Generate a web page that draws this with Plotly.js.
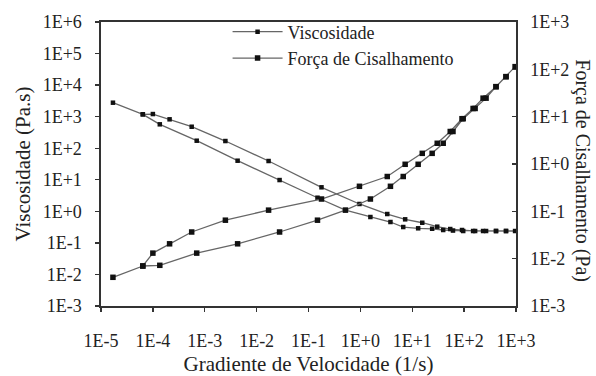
<!DOCTYPE html>
<html>
<head>
<meta charset="utf-8">
<script src="https://cdn.plot.ly/plotly-3.0.1.min.js"></script>
<style>html,body{margin:0;padding:0;background:#fff}#chart{width:596px;height:376px}</style>
</head>
<body>
<div id="chart"></div>
<script>
// Shear rate (1/s): increasing sweep, then decreasing sweep
const rateUp   = [1.7e-5, 6.4e-5, 1.0e-4, 2.1e-4, 5.6e-4, 2.5e-3, 1.7e-2, 0.178, 0.96, 3.3, 7.3, 15.6, 30.3, 54, 91, 149, 232, 412, 642, 960];
const rateDown = [642, 412, 265, 163, 96, 61, 39.5, 24.2, 13.0, 6.7, 3.8, 1.56, 0.515, 0.149, 0.0277, 4.3e-3, 7.0e-4, 1.36e-4, 6.4e-5];
// Viscosity (Pa.s)
const viscUp   = [2770, 1190, 1210, 824, 480, 169, 39.3, 5.77, 1.71, 0.822, 0.558, 0.435, 0.326, 0.275, 0.256, 0.238, 0.238, 0.238, 0.238, 0.238];
const viscDown = [0.238, 0.238, 0.238, 0.238, 0.238, 0.246, 0.256, 0.28, 0.29, 0.318, 0.459, 0.661, 1.10, 2.70, 9.8, 40.2, 173, 572, 1186];
// Shear stress (Pa)
const stressUp   = [0.00404, 0.0070, 0.0131, 0.0206, 0.0366, 0.065, 0.106, 0.182, 0.338, 0.544, 0.986, 1.68, 2.74, 4.86, 9.06, 14.9, 24.6, 43.0, 70.0, 114];
const stressDown = [70.0, 43.0, 24.6, 14.9, 9.06, 4.86, 2.74, 1.68, 0.986, 0.544, 0.338, 0.182, 0.106, 0.065, 0.0366, 0.0206, 0.0131, 0.00724, 0.0070];
// Tick labels
const xTickVals = [1e-5, 1e-4, 1e-3, 1e-2, 1e-1, 1e0, 1e1, 1e2, 1e3];
const xTickText = ['1E-5','1E-4','1E-3','1E-2','1E-1','1E+0','1E+1','1E+2','1E+3'];
const yTickVals = [1e-3, 1e-2, 1e-1, 1e0, 1e1, 1e2, 1e3, 1e4, 1e5, 1e6];
const yTickText = ['1E-3','1E-2','1E-1','1E+0','1E+1','1E+2','1E+3','1E+4','1E+5','1E+6'];
const y2TickVals = [1e-3, 1e-2, 1e-1, 1e0, 1e1, 1e2, 1e3];
const y2TickText = ['1E-3','1E-2','1E-1','1E+0','1E+1','1E+2','1E+3'];

const FONT = 'Liberation Serif, Times New Roman, serif';
const INK = '#222';
const LINE = '#333';

const traces = [
  {
    name: 'Viscosidade',
    x: rateUp.concat(rateDown), y: viscUp.concat(viscDown),
    xaxis: 'x', yaxis: 'y',
    mode: 'lines+markers',
    line: {color: '#666', width: 1.3},
    marker: {symbol: 'square', size: 4.5, color: '#111'}
  },
  {
    name: 'Força de Cisalhamento',
    x: rateUp.concat(rateDown), y: stressUp.concat(stressDown),
    xaxis: 'x', yaxis: 'y2',
    mode: 'lines+markers',
    line: {color: '#666', width: 1.3},
    marker: {symbol: 'square', size: 5.5, color: '#111'}
  }
];

const layout = {
  width: 596, height: 376,
  margin: {l: 101, r: 80, t: 22, b: 70, pad: 0},
  paper_bgcolor: '#fff', plot_bgcolor: '#fff',
  font: {family: FONT, color: INK, size: 18},
  showlegend: true,
  legend: {
    x: 0.305, y: 1.03, xanchor: 'left', yanchor: 'top',
    bgcolor: 'rgba(0,0,0,0)', borderwidth: 0,
    font: {family: FONT, size: 18, color: INK},
    itemwidth: 50, tracegroupgap: 0
  },
  xaxis: {
    type: 'log', range: [-5, 3],
    tickmode: 'array', tickvals: xTickVals, ticktext: xTickText,
    ticks: 'outside', ticklen: 4, tickwidth: 1.3, tickcolor: LINE,
    showline: true, linecolor: LINE, linewidth: 1.6, mirror: true,
    showgrid: false, zeroline: false,
    tickfont: {family: FONT, size: 18, color: INK},
    ticklabelstandoff: 14,
    title: {text: 'Gradiente de Velocidade (1/s)', font: {family: FONT, size: 21, color: INK}, standoff: 6}
  },
  xaxis2: {
    type: 'log', range: [-5, 3], overlaying: 'x', anchor: 'y', side: 'bottom',
    tickmode: 'array', tickvals: xTickVals,
    ticks: 'inside', ticklen: 4, tickwidth: 1.3, tickcolor: LINE,
    showticklabels: false, showline: false, showgrid: false, zeroline: false
  },
  yaxis: {
    type: 'log', range: [-3, 6],
    tickmode: 'array', tickvals: yTickVals, ticktext: yTickText,
    ticks: 'outside', ticklen: 4, tickwidth: 1.3, tickcolor: LINE,
    showline: true, linecolor: LINE, linewidth: 1.6,
    showgrid: false, zeroline: false,
    tickfont: {family: FONT, size: 18, color: INK},
    ticklabelstandoff: 10,
    title: {text: 'Viscosidade (Pa.s)', font: {family: FONT, size: 21, color: INK}, standoff: 6}
  },
  yaxis3: {
    type: 'log', range: [-3, 6], overlaying: 'y', anchor: 'x', side: 'left',
    tickmode: 'array', tickvals: yTickVals,
    ticks: 'inside', ticklen: 4, tickwidth: 1.3, tickcolor: LINE,
    showticklabels: false, showline: false, showgrid: false, zeroline: false
  },
  yaxis2: {
    type: 'log', range: [-3, 3], overlaying: 'y', side: 'right', anchor: 'x',
    tickmode: 'array', tickvals: y2TickVals, ticktext: y2TickText,
    ticks: 'inside', ticklen: 4, tickwidth: 1.3, tickcolor: LINE,
    showline: true, linecolor: LINE, linewidth: 1.6,
    showgrid: false, zeroline: false,
    tickfont: {family: FONT, size: 18, color: INK},
    ticklabelstandoff: 9
  },
  annotations: [
    {
      text: 'Força de Cisalhamento (Pa)', textangle: 90,
      xref: 'paper', yref: 'paper', x: 1.161, y: 0.475,
      xanchor: 'center', yanchor: 'middle', showarrow: false,
      font: {family: FONT, size: 20, color: INK}
    }
  ]
};

Plotly.newPlot('chart', traces, layout, {displayModeBar: false, staticPlot: true});
</script>
</body>
</html>
